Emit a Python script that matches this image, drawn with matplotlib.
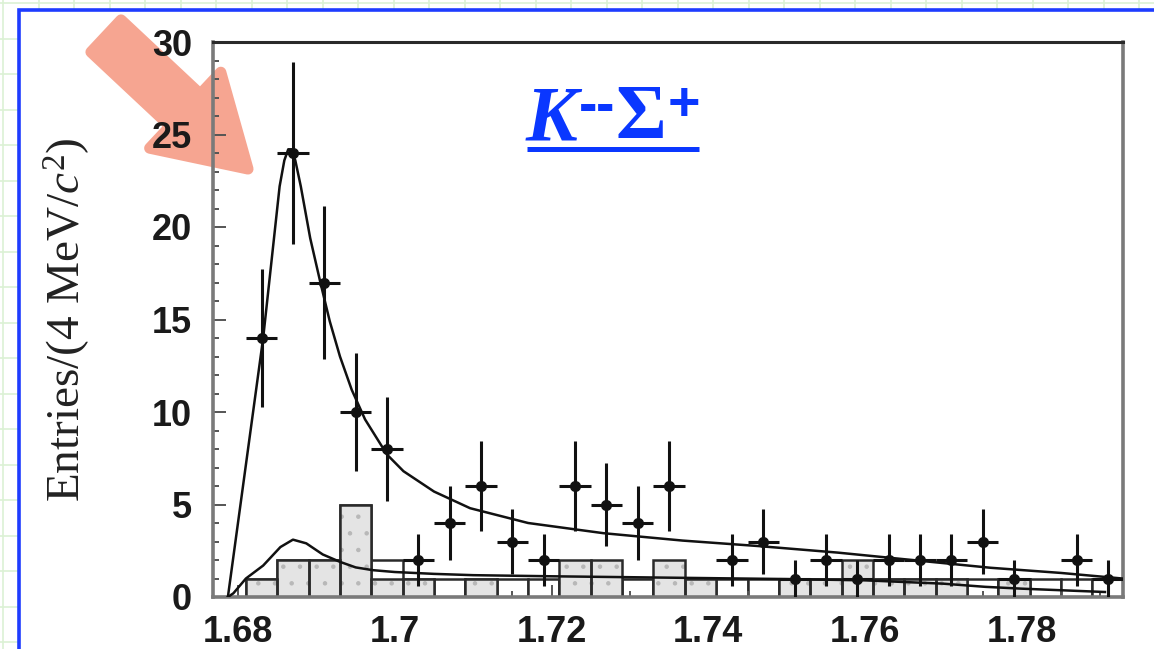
import numpy as np
import matplotlib
matplotlib.use('Agg')
import matplotlib.pyplot as plt
from matplotlib.patches import Rectangle, FancyArrow
from matplotlib.ticker import MultipleLocator

plt.rcParams['mathtext.fontset'] = 'custom'
plt.rcParams['mathtext.rm'] = 'Liberation Serif'
plt.rcParams['mathtext.it'] = 'Liberation Serif:italic'
plt.rcParams['hatch.linewidth'] = 0.8

# K- Sigma+ invariant mass, 4 MeV/c^2 bins
bin_centers = [1.683, 1.687, 1.691, 1.695, 1.699, 1.703, 1.707, 1.711, 1.715, 1.719,
               1.723, 1.727, 1.731, 1.735, 1.739, 1.743, 1.747, 1.751, 1.755, 1.759,
               1.763, 1.767, 1.771, 1.775, 1.779, 1.783, 1.787, 1.791]
counts = [14, 24, 17, 10, 8, 2, 4, 6, 3, 2, 6, 5, 4, 6, 0, 2, 3, 1, 2, 1,
          2, 2, 2, 3, 1, 0, 2, 1]
bin_width = 0.004

# background estimates (shaded sideband and open MC histograms)
sideband_hist = [1, 2, 2, 5, 1, 1, 0, 1, 0, 0, 2, 2, 0, 2, 1, 0, 0, 1, 1, 2,
                 1, 1, 1, 0, 1, 0, 0, 0]
mc_hist = [1, 2, 2, 5, 2, 1, 1, 1, 1, 1, 1, 1, 1, 1, 1, 1, 1, 1, 1, 1,
           1, 1, 1, 1, 1, 1, 1, 1]

# fit result: total and background component
fit_x = [1.6787, 1.6832, 1.6853, 1.6859, 1.6864, 1.6868, 1.6873, 1.6880, 1.6892,
         1.6905, 1.6917, 1.6930, 1.6945, 1.6962, 1.6990, 1.7011, 1.7050, 1.7096,
         1.7170, 1.7266, 1.7367, 1.7465, 1.7565, 1.7660, 1.7760, 1.7850, 1.7928]
fit_total = [0.0, 14.0, 22.2, 23.6, 24.2, 24.2, 23.6, 22.2, 19.4,
             17.0, 14.9, 13.0, 11.2, 9.6, 7.7, 6.8, 5.7, 4.8,
             4.0, 3.45, 3.05, 2.75, 2.4, 2.0, 1.58, 1.3, 1.0]
bkg_x = [1.6787, 1.6794, 1.6810, 1.6832, 1.6854, 1.6870, 1.6887, 1.6908, 1.6930,
         1.6950, 1.6972, 1.7000, 1.7050, 1.7100, 1.7200, 1.7300, 1.7400, 1.7500,
         1.7600, 1.7700, 1.7753, 1.7800, 1.7906]
bkg_curve = [0.0, 0.2, 1.0, 1.7, 2.7, 3.1, 2.9, 2.3, 1.9,
             1.6, 1.45, 1.35, 1.25, 1.18, 1.12, 1.07, 1.02, 0.97,
             0.9, 0.72, 0.55, 0.45, 0.27]

W, H = 1154, 649
fig = plt.figure(figsize=(W / 100, H / 100), dpi=100)

# slide backdrop: faint green grid, white panel with blue frame
bg = fig.add_axes([0, 0, 1, 1], zorder=-10)
bg.set_xlim(0, W)
bg.set_ylim(H, 0)
bg.axis('off')
for gx in np.arange(3, W, 35.5):
    bg.plot([gx, gx], [0, H], color='#dcf1d4', lw=1.2, zorder=0)
for gy in np.arange(3, H, 35.5):
    bg.plot([0, W], [gy, gy], color='#dcf1d4', lw=1.2, zorder=0)
bg.add_patch(Rectangle((19, 10), W + 50, H + 50, facecolor='white',
                       edgecolor='#1e3cff', lw=2.6, zorder=1))

# pointer arrow
bg.add_patch(FancyArrow(106, 36, 142, 133, width=44, head_width=104, head_length=86,
                        length_includes_head=True, facecolor='#f6a591',
                        edgecolor='#f6a591', lw=8, joinstyle='round', zorder=2))

# title K^- - Sigma^+
blue = '#0a37ff'
bg.text(526, 140, 'K', fontsize=56, family='Liberation Serif', style='italic',
        weight='bold', color=blue, va='baseline', ha='left', zorder=3)
bg.text(588, 122, '-', fontsize=40, family='Liberation Sans', weight='bold',
        color=blue, va='baseline', ha='center', zorder=3)
bg.text(605, 122, '-', fontsize=40, family='Liberation Sans', weight='bold',
        color=blue, va='baseline', ha='center', zorder=3)
bg.text(615, 138, 'Σ', fontsize=56, family='Liberation Serif', weight='bold',
        color=blue, va='baseline', ha='left', zorder=3)
bg.text(684, 120, '+', fontsize=40, family='Liberation Sans', weight='bold',
        color=blue, va='baseline', ha='center', zorder=3)
bg.plot([527, 699], [149, 149], color=blue, lw=3.6, solid_capstyle='butt', zorder=3)

# main plot
ax = fig.add_axes([213 / W, 1 - 597 / H, 910 / W, 555 / H])
ax.set_facecolor('none')

x = np.array(bin_centers)
y = np.array(counts)
ax.bar(x, mc_hist, width=bin_width, facecolor='white', edgecolor='#2a2a2a',
       lw=1.8, zorder=1)
# stippled fill first, dark outline on top
ax.bar(x, sideband_hist, width=bin_width, facecolor='#e4e4e4', edgecolor='#b8b8b8',
       lw=0, hatch='.', zorder=2)
ax.bar(x, sideband_hist, width=bin_width, facecolor='none', edgecolor='#2a2a2a',
       lw=1.8, zorder=2)

ax.plot(fit_x, fit_total, color='#111111', lw=1.8, zorder=3)
ax.plot(bkg_x, bkg_curve, color='#111111', lw=1.8, zorder=3)

m = y > 0
ax.errorbar(x[m], y[m], xerr=bin_width / 2, yerr=np.sqrt(y[m]), fmt='o', ms=7,
            color='#111111', elinewidth=2.2, capsize=0, zorder=4)

ax.set_xlim(1.6768, 1.7929)
ax.set_ylim(0, 30)
ax.xaxis.set_major_locator(MultipleLocator(0.02))
ax.xaxis.set_minor_locator(MultipleLocator(0.005))
ax.yaxis.set_major_locator(MultipleLocator(5))
ax.yaxis.set_minor_locator(MultipleLocator(1))
ax.set_xticks([1.68, 1.70, 1.72, 1.74, 1.76, 1.78])
ax.set_xticklabels(['1.68', '1.7', '1.72', '1.74', '1.76', '1.78'])

ax.tick_params(which='both', direction='in', color='#555555', width=1.4,
               top=False, right=False)
ax.tick_params(which='major', length=9)
ax.tick_params(which='minor', length=4.5)
ax.tick_params(axis='y', pad=15)
ax.tick_params(axis='x', pad=13)
for lab in ax.get_xticklabels() + ax.get_yticklabels():
    lab.set_fontfamily('Liberation Sans')
    lab.set_fontweight('bold')
    lab.set_fontsize(26)
    lab.set_color('#1a1a1a')

for side in ['left', 'right', 'bottom']:
    ax.spines[side].set_color('#7a7a7a')
    ax.spines[side].set_linewidth(2.6)
ax.spines['top'].set_color('#2a2a2a')
ax.spines['top'].set_linewidth(2.2)

ax.set_ylabel('Entries/(4 MeV/$c^2$)', fontsize=34, family='Liberation Serif',
              color='#222222', va='center')
ax.yaxis.set_label_coords(-0.161, 0.5)

fig.savefig('out.png', dpi=100)
